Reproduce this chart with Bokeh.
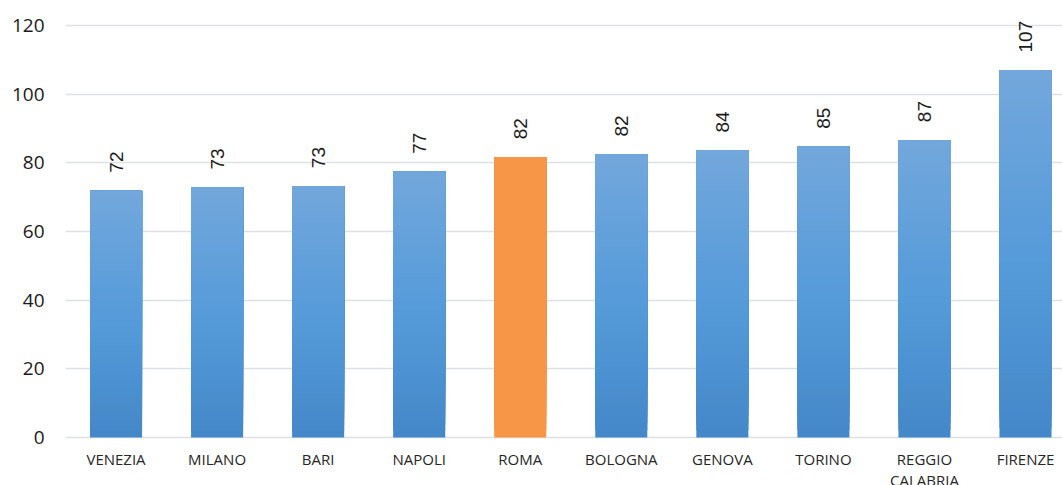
import numpy as np
from bokeh.plotting import figure
from bokeh.models import Range1d, FixedTicker, ColumnDataSource
from bokeh.embed import file_html
from bokeh.resources import INLINE
from bokeh.core.properties import value

# ---- data ----
cities = ["VENEZIA", "MILANO", "BARI", "NAPOLI", "ROMA", "BOLOGNA",
          "GENOVA", "TORINO", "REGGIO\nCALABRIA", "FIRENZE"]
values = [71.9, 72.8, 73.2, 77.4, 81.6, 82.4, 83.6, 84.7, 86.6, 106.9]
highlight = "ROMA"
y_ticks = [0, 20, 40, 60, 80, 100, 120]

x = list(range(len(cities)))
labels = [str(int(round(v))) for v in values]

p = figure(width=1062, height=485, output_backend="svg", toolbar_location=None,
           x_range=Range1d(-0.5, 9.366), y_range=Range1d(-13.98, 127.28),
           min_border_left=65, min_border_right=0, min_border_top=0, min_border_bottom=0)
p.outline_line_color = None
p.background_fill_color = "white"
p.border_fill_color = "white"
p.xaxis.visible = False

# gridlines
p.xgrid.grid_line_color = None
p.ygrid.ticker = FixedTicker(ticks=y_ticks)
p.ygrid.grid_line_color = "#dde1e6"
p.ygrid.grid_line_width = 1.6

# gradient bars (per-bar vertical gradient), highlight bar solid orange
top_c = np.array([0x72, 0xa7, 0xdb])
mid_c = np.array([0x56, 0x9b, 0xda])
bot_c = np.array([0x44, 0x88, 0xc9])
N = 40
for k in range(N):
    t = k / (N - 1)
    if t < 0.5:
        c = bot_c + (mid_c - bot_c) * (t / 0.5)
    else:
        c = mid_c + (top_c - mid_c) * ((t - 0.5) / 0.5)
    col = "#%02x%02x%02x" % tuple(int(round(v)) for v in c)
    colors = ["#f79646" if cities[i] == highlight else col for i in range(len(cities))]
    bottoms = [v * k / N for v in values]
    src = ColumnDataSource(dict(x=x, top=values, bottom=bottoms, color=colors))
    p.vbar(x="x", top="top", bottom="bottom", width=0.515, source=src,
           fill_color="color", line_color=None)

# data labels
lsrc = ColumnDataSource(dict(x=x, y=values, text=labels))
p.text(x="x", y="y", text="text", source=lsrc, angle=np.pi / 2,
       text_align="left", text_baseline="middle", y_offset=-18,
       text_font=value("Liberation Sans"), text_font_size="19px", text_color="#1a1a1a")

# category labels under the baseline
csrc = ColumnDataSource(dict(x=x, y=[0] * len(x), text=cities))
p.text(x="x", y="y", text="text", source=csrc,
       text_align="center", text_baseline="top", y_offset=11,
       text_font=value("Open Sans"), text_font_size="15px", text_color="#262626",
       text_line_height=1.05)

# y axis
p.yaxis.ticker = FixedTicker(ticks=y_ticks)
p.yaxis.axis_line_color = None
p.yaxis.major_tick_line_color = None
p.yaxis.minor_tick_line_color = None
p.yaxis.major_tick_out = 0
p.yaxis.major_label_standoff = 21
p.yaxis.major_label_text_font = "Open Sans"
p.yaxis.major_label_text_font_size = "19px"
p.yaxis.major_label_text_color = "#1a1a1a"

open("out.html", "w").write(file_html(p, INLINE))
